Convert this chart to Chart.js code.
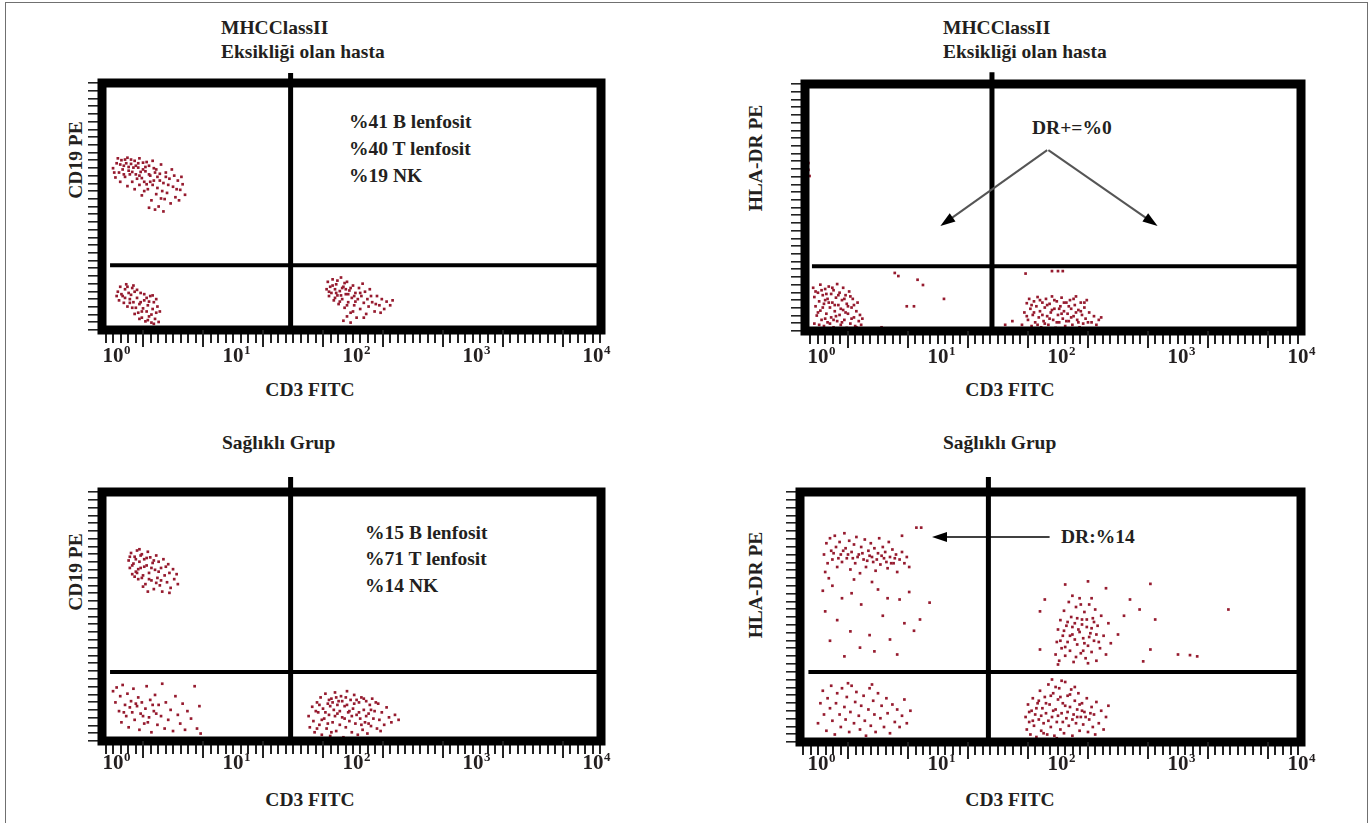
<!DOCTYPE html>
<html>
<head>
<meta charset="utf-8">
<script src="https://cdn.jsdelivr.net/npm/chart.js@4.4.1/dist/chart.umd.min.js"></script>
<style>
  body { margin: 0; background: #fff; width: 1371px; height: 823px; position: relative; overflow: hidden;
         font-family: "Liberation Serif", "DejaVu Serif", serif; font-weight: bold; color: #231f20; }
  .outer { position: absolute; left: 5px; top: 2px; width: 1361px; height: 900px; border: 1.5px solid #707070; }
  canvas { position: absolute; }
  .t { position: absolute; font-size: 19.5px; line-height: 1; white-space: nowrap; }
  .c { transform: translateX(-50%); }
  .r { transform: translate(-50%, -50%) rotate(-90deg); }
</style>
</head>
<body>
<div class="outer"></div>

<div class="t" style="left:221px;top:18px">MHCClassII</div>
<div class="t" style="left:221px;top:42px">Eksikliği olan hasta</div>
<div class="t" style="left:943px;top:18px">MHCClassII</div>
<div class="t" style="left:943px;top:42px">Eksikliği olan hasta</div>
<div class="t" style="left:222px;top:433px">Sağlıklı Grup</div>
<div class="t" style="left:943px;top:433px">Sağlıklı Grup</div>

<div class="t c" style="left:310px;top:380px">CD3 FITC</div>
<div class="t c" style="left:1010px;top:380px">CD3 FITC</div>
<div class="t c" style="left:310px;top:790px">CD3 FITC</div>
<div class="t c" style="left:1010px;top:790px">CD3 FITC</div>

<div class="t r" style="left:76px;top:160px">CD19 PE</div>
<div class="t r" style="left:756px;top:158px">HLA-DR PE</div>
<div class="t r" style="left:76px;top:572px">CD19 PE</div>
<div class="t r" style="left:756px;top:585px">HLA-DR PE</div>

<div class="t" style="left:349px;top:112px">%41 B lenfosit</div>
<div class="t" style="left:349px;top:139px">%40 T lenfosit</div>
<div class="t" style="left:349px;top:166px">%19 NK</div>
<div class="t" style="left:365px;top:523px">%15 B lenfosit</div>
<div class="t" style="left:365px;top:549px">%71 T lenfosit</div>
<div class="t" style="left:365px;top:576px">%14 NK</div>
<div class="t" style="left:1032px;top:118px">DR+=%0</div>
<div class="t" style="left:1061px;top:527px">DR:%14</div>

<canvas id="p1" width="570" height="320" style="left:60px;top:55px"></canvas>
<canvas id="p2" width="590" height="320" style="left:740px;top:55px"></canvas>
<canvas id="p3" width="570" height="320" style="left:60px;top:465px"></canvas>
<canvas id="p4" width="590" height="320" style="left:740px;top:465px"></canvas>

<script>
// all values in log10 decades (x = CD3 FITC, y = CD19 PE / HLA-DR PE)
const decades = [0, 1, 2, 3, 4];

// patient, CD3 vs CD19
const p1B = [[0.00,2.62],[0.03,2.70],[0.05,2.55],[0.07,2.75],[0.09,2.66],[0.10,2.48],[0.12,2.79],[0.13,2.58],[0.15,2.69],[0.16,2.40],[0.18,2.74],[0.19,2.52],[0.21,2.63],[0.22,2.78],[0.24,2.46],[0.25,2.71],[0.27,2.57],[0.28,2.36],[0.30,2.66],[0.31,2.50],[0.33,2.74],[0.34,2.42],[0.36,2.60],[0.37,2.30],[0.39,2.53],[0.40,2.68],[0.42,2.38],[0.44,2.55],[0.45,2.22],[0.47,2.45],[0.49,2.60],[0.50,2.32],[0.52,2.15],[0.54,2.42],[0.56,2.27],[0.58,2.36],[0.60,2.19],
  [0.02,2.47],[0.04,2.78],[0.06,2.40],[0.08,2.60],[0.11,2.70],[0.12,2.33],[0.14,2.52],[0.15,2.76],[0.17,2.63],[0.18,2.28],[0.20,2.45],[0.21,2.70],[0.23,2.56],[0.24,2.18],[0.26,2.40],[0.27,2.64],[0.29,2.28],[0.30,2.52],[0.32,2.10],[0.33,2.35],[0.35,2.55],[0.36,2.20],[0.38,2.00],[0.39,2.42],[0.41,2.25],[0.43,2.12],[0.44,2.48],[0.46,2.35],[0.48,2.05],[0.51,2.50],[0.53,2.28],[0.55,2.10],[0.57,2.48],
  [0.01,2.55],[0.06,2.68],[0.09,2.52],[0.10,2.76],[0.13,2.64],[0.16,2.56],[0.19,2.66],[0.22,2.50],[0.25,2.60],[0.28,2.72],[0.31,2.40],[0.34,2.62],[0.37,2.48],[0.40,2.13],[0.26,2.25],[0.35,1.95],[0.30,1.98],[0.22,2.35],[0.42,1.92]];
const p1N = [[0.04,0.62],[0.06,0.70],[0.08,0.55],[0.10,0.66],[0.11,0.74],[0.13,0.60],[0.14,0.50],[0.16,0.68],[0.05,0.48],[0.09,0.44],[0.12,0.38],[0.15,0.57],[0.17,0.45],[0.18,0.62],[0.19,0.36],[0.20,0.52],[0.21,0.28],[0.22,0.42],[0.23,0.60],[0.24,0.20],[0.25,0.35],[0.26,0.48],[0.27,0.14],[0.28,0.30],[0.29,0.40],[0.30,0.22],[0.31,0.55],[0.32,0.12],[0.33,0.34],[0.34,0.45],[0.35,0.18],[0.36,0.28],[0.37,0.38],[0.38,0.13],[0.36,0.50],[0.30,0.46],[0.26,0.58],[0.22,0.18],[0.18,0.26],[0.14,0.44],[0.07,0.58],[0.03,0.55],[0.12,0.70],[0.16,0.36],[0.20,0.65],[0.24,0.30],[0.28,0.52],[0.32,0.25],[0.34,0.10],[0.29,0.16],[0.33,0.56],[0.10,0.52],[0.17,0.72],[0.23,0.45],[0.39,0.30]];
const p1T = [[1.78,0.66],[1.79,0.78],[1.80,0.55],[1.81,0.70],[1.82,0.60],[1.83,0.82],[1.84,0.48],[1.85,0.66],[1.86,0.74],[1.87,0.56],[1.88,0.42],[1.89,0.63],[1.90,0.85],[1.91,0.50],[1.92,0.70],[1.93,0.36],[1.94,0.58],[1.95,0.78],[1.96,0.45],[1.97,0.64],[1.98,0.28],[1.99,0.52],[2.00,0.72],[2.01,0.40],[2.02,0.60],[2.03,0.20],[2.04,0.50],[2.05,0.68],[2.06,0.34],[2.07,0.55],[2.08,0.75],[2.09,0.44],[2.10,0.62],[2.11,0.26],[2.12,0.50],[2.13,0.38],[2.14,0.66],[2.16,0.45],[2.18,0.30],[2.20,0.55],[2.22,0.40],[2.24,0.50],[2.26,0.34],[2.28,0.46],[2.31,0.40],[2.33,0.48],
  [1.80,0.62],[1.83,0.72],[1.85,0.52],[1.87,0.80],[1.89,0.46],[1.91,0.68],[1.93,0.76],[1.95,0.40],[1.96,0.58],[1.98,0.68],[2.00,0.30],[2.02,0.46],[1.92,0.15],[1.95,0.22],[1.98,0.12],[2.01,0.55],[1.86,0.60],[1.90,0.56],[1.94,0.66],[2.06,0.60],[2.09,0.20],[2.15,0.55],[2.19,0.42],[2.23,0.28]];

// patient, CD3 vs HLA-DR
const p2N = [[-0.04,0.70],[-0.03,0.55],[-0.02,0.40],[-0.01,0.25],[-0.03,0.12],[0.00,0.62],[0.01,0.48],[0.02,0.75],[0.02,0.33],[0.03,0.18],[0.04,0.58],[0.05,0.44],[0.05,0.08],[0.06,0.68],[0.07,0.28],[0.08,0.52],[0.08,0.14],[0.09,0.72],[0.10,0.38],[0.11,0.60],[0.11,0.22],[0.12,0.46],[0.13,0.06],[0.13,0.66],[0.14,0.32],[0.15,0.54],[0.16,0.16],[0.16,0.76],[0.17,0.42],[0.18,0.62],[0.18,0.26],[0.19,0.10],[0.20,0.50],[0.21,0.70],[0.21,0.34],[0.22,0.18],[0.23,0.58],[0.24,0.44],[0.24,0.05],[0.25,0.28],[0.26,0.64],[0.27,0.12],[0.28,0.38],[0.29,0.52],[0.30,0.22],[0.31,0.08],[0.32,0.32],[0.33,0.46],[0.34,0.16],[0.35,0.26],[0.36,0.10],[0.37,0.20],
  [-0.02,0.64],[0.00,0.30],[0.03,0.66],[0.04,0.38],[0.06,0.20],[0.07,0.60],[0.09,0.46],[0.10,0.12],[0.12,0.70],[0.14,0.42],[0.15,0.24],[0.17,0.58],[0.19,0.36],[0.20,0.14],[0.22,0.52],[0.23,0.30],[0.25,0.40],[0.27,0.56],[0.28,0.20],[0.30,0.42],[0.32,0.06],[0.01,0.10],[0.06,0.50],[0.13,0.18]];
const p2T = [[1.70,0.10],[1.72,0.30],[1.74,0.45],[1.75,0.18],[1.76,0.52],[1.77,0.36],[1.78,0.08],[1.79,0.26],[1.80,0.48],[1.81,0.14],[1.82,0.40],[1.83,0.55],[1.84,0.22],[1.85,0.32],[1.86,0.06],[1.87,0.46],[1.88,0.16],[1.89,0.38],[1.90,0.52],[1.91,0.24],[1.92,0.10],[1.93,0.44],[1.94,0.30],[1.95,0.56],[1.96,0.18],[1.97,0.36],[1.98,0.05],[1.99,0.48],[2.00,0.26],[2.01,0.14],[2.02,0.40],[2.03,0.54],[2.04,0.20],[2.05,0.32],[2.06,0.08],[2.07,0.46],[2.08,0.28],[2.09,0.16],[2.10,0.50],[2.11,0.36],[2.12,0.10],[2.13,0.24],[2.14,0.42],[2.15,0.56],[2.16,0.18],[2.17,0.34],[2.18,0.06],[2.19,0.46],[2.20,0.26],[2.21,0.12],[2.22,0.38],[2.23,0.20],[2.24,0.50],[2.26,0.30],[2.28,0.14],[2.30,0.24],[2.32,0.10],[2.34,0.18],
  [1.74,0.24],[1.78,0.42],[1.80,0.30],[1.83,0.10],[1.85,0.50],[1.87,0.26],[1.89,0.12],[1.91,0.42],[1.93,0.20],[1.95,0.34],[1.97,0.50],[1.99,0.14],[2.01,0.36],[2.03,0.28],[2.05,0.46],[2.07,0.16],[2.09,0.40],[2.11,0.22],[2.13,0.52],[2.15,0.30],[2.17,0.14],[2.19,0.32],[2.22,0.46],[2.25,0.14],[1.56,0.10],[1.62,0.16],[1.73,0.04],[2.36,0.22],[1.84,0.02],[2.06,0.02]];
const p2Few = [[0.64,0.94],[0.67,0.89],[0.83,0.83],[0.875,0.745],[0.74,0.40],[0.80,0.40],[1.05,0.52],[0.53,0.06],[1.95,0.97],[2.00,0.97],[2.04,0.97],[1.73,0.93],[-0.08,2.72],[-0.08,2.61],[-0.07,2.51]];

// healthy, CD3 vs CD19
const p3B = [[0.13,2.90],[0.14,2.78],[0.15,3.02],[0.16,2.68],[0.17,2.85],[0.18,2.96],[0.19,2.72],[0.20,3.06],[0.21,2.60],[0.22,2.88],[0.23,2.78],[0.24,3.00],[0.25,2.66],[0.26,2.92],[0.27,2.52],[0.28,2.82],[0.29,3.04],[0.30,2.70],[0.31,2.95],[0.32,2.58],[0.33,2.86],[0.34,2.44],[0.35,2.75],[0.36,2.98],[0.37,2.62],[0.38,2.88],[0.39,2.50],[0.40,2.78],[0.41,2.40],[0.42,2.92],[0.43,2.66],[0.45,2.55],[0.46,2.84],[0.47,2.70],[0.48,2.46],[0.50,2.76],[0.51,2.60],[0.53,2.68],[0.54,2.52],
  [0.14,2.96],[0.16,2.82],[0.18,2.64],[0.19,2.92],[0.21,2.76],[0.23,2.98],[0.24,2.62],[0.26,2.80],[0.28,2.94],[0.30,2.60],[0.32,2.78],[0.34,2.90],[0.36,2.54],[0.38,2.72],[0.40,2.58],[0.44,2.80],[0.47,2.38],[0.25,2.48],[0.29,2.40],[0.20,2.70],[0.22,3.08]];
const p3N = [[0.00,0.80],[0.02,0.62],[0.03,0.86],[0.05,0.48],[0.06,0.72],[0.07,0.30],[0.08,0.90],[0.10,0.58],[0.11,0.40],[0.12,0.76],[0.13,0.22],[0.15,0.64],[0.16,0.46],[0.17,0.84],[0.18,0.34],[0.20,0.56],[0.21,0.70],[0.22,0.18],[0.23,0.44],[0.24,0.62],[0.26,0.28],[0.27,0.52],[0.28,0.88],[0.30,0.38],[0.31,0.66],[0.32,0.14],[0.34,0.48],[0.35,0.74],[0.37,0.26],[0.38,0.58],[0.40,0.40],[0.41,0.92],[0.43,0.20],[0.44,0.62],[0.46,0.34],[0.48,0.50],[0.50,0.16],[0.52,0.72],[0.54,0.42],[0.56,0.28],[0.58,0.60],[0.60,0.18],[0.62,0.48],[0.65,0.36],[0.68,0.88],[0.70,0.20],[0.72,0.56],[0.73,0.12],
  [0.09,0.46],[0.14,0.54],[0.19,0.60],[0.25,0.40],[0.29,0.30],[0.33,0.58],[0.36,0.44]];
const p3T = [[1.63,0.40],[1.64,0.22],[1.66,0.55],[1.67,0.32],[1.68,0.14],[1.70,0.62],[1.71,0.46],[1.72,0.26],[1.73,0.70],[1.74,0.10],[1.75,0.52],[1.76,0.36],[1.77,0.76],[1.78,0.20],[1.79,0.60],[1.80,0.42],[1.81,0.08],[1.82,0.68],[1.83,0.30],[1.84,0.50],[1.85,0.78],[1.86,0.16],[1.87,0.44],[1.88,0.64],[1.89,0.26],[1.90,0.72],[1.91,0.38],[1.92,0.06],[1.93,0.56],[1.94,0.22],[1.95,0.80],[1.96,0.46],[1.97,0.32],[1.98,0.66],[1.99,0.14],[2.00,0.52],[2.01,0.74],[2.02,0.28],[2.03,0.42],[2.04,0.10],[2.05,0.62],[2.06,0.36],[2.07,0.70],[2.08,0.18],[2.09,0.50],[2.10,0.30],[2.11,0.64],[2.12,0.12],[2.13,0.44],[2.14,0.58],[2.15,0.24],[2.16,0.68],[2.17,0.36],[2.18,0.48],[2.20,0.20],[2.21,0.60],[2.22,0.34],[2.24,0.46],[2.26,0.26],[2.28,0.54],[2.30,0.38],[2.32,0.30],[2.35,0.42],[2.38,0.34],
  [1.69,0.48],[1.72,0.58],[1.74,0.34],[1.77,0.46],[1.79,0.28],[1.81,0.56],[1.83,0.62],[1.85,0.40],[1.87,0.58],[1.89,0.48],[1.91,0.64],[1.93,0.36],[1.95,0.58],[1.97,0.48],[1.99,0.40],[2.01,0.60],[2.03,0.66],[2.05,0.46],[2.07,0.26],[2.09,0.68],[2.11,0.40],[2.13,0.28],[2.15,0.50],[2.19,0.62],[1.86,0.70],[1.94,0.70],[1.80,0.66],[1.70,0.20],[2.23,0.16],[1.82,0.14],[1.78,0.04],[1.84,0.02]];

// healthy, CD3 vs HLA-DR
const p4B = [[0.05,3.00],[0.07,3.18],[0.08,2.86],[0.10,3.26],[0.11,3.06],[0.12,2.92],[0.14,3.30],[0.15,3.12],[0.16,2.80],[0.18,3.20],[0.19,3.00],[0.20,2.88],[0.22,3.34],[0.23,3.10],[0.24,2.94],[0.26,3.22],[0.27,2.76],[0.28,3.04],[0.30,3.16],[0.31,2.86],[0.32,3.28],[0.34,3.00],[0.35,2.70],[0.36,3.12],[0.38,2.92],[0.39,3.24],[0.40,2.80],[0.42,3.06],[0.43,2.98],[0.44,3.18],[0.46,2.88],[0.47,3.10],[0.48,2.74],[0.50,3.02],[0.51,3.26],[0.52,2.84],[0.54,3.12],[0.55,2.94],[0.56,3.04],[0.58,2.78],[0.59,3.20],[0.60,2.96],[0.62,3.08],[0.63,2.86],[0.65,3.00],[0.66,2.72],[0.68,2.92],[0.70,3.04],[0.72,2.86],[0.74,2.96],[0.76,2.80],
  [0.13,3.02],[0.17,2.94],[0.21,3.06],[0.25,3.00],[0.29,2.94],[0.33,2.96],[0.37,3.02],[0.41,2.90],[0.45,2.96],[0.49,2.92],[0.53,2.98],[0.57,2.88],[0.61,2.86],[0.64,2.94],[0.06,2.72],[0.09,2.62],[0.30,2.60],[0.45,2.56],[0.82,3.43],[0.86,3.43],[0.70,3.30],
  [0.04,2.42],[0.12,2.50],[0.20,2.30],[0.28,2.38],[0.36,2.20],[0.50,2.44],[0.58,2.30],[0.68,2.28],[0.76,2.40],[0.93,2.23],[0.06,2.09],[0.85,1.96],[0.72,1.90],[0.16,1.95],[0.27,1.77],[0.43,1.71],[0.60,1.64],[0.35,1.51],[0.47,1.45],[0.22,1.37],[0.66,1.40],[0.10,1.62],[0.80,1.78],[0.54,2.02]];
const p4DR = [[1.98,1.40],[1.99,1.60],[2.00,1.80],[2.01,1.30],[2.02,1.95],[2.03,1.50],[2.04,1.70],[2.05,2.10],[2.06,1.38],[2.07,1.86],[2.08,1.60],[2.09,2.24],[2.10,1.46],[2.11,2.00],[2.12,1.72],[2.13,1.28],[2.14,1.90],[2.15,2.16],[2.16,1.56],[2.17,1.80],[2.18,2.30],[2.19,1.42],[2.20,1.96],[2.21,1.66],[2.22,2.08],[2.23,1.34],[2.24,1.84],[2.25,1.54],[2.26,2.20],[2.27,1.74],[2.28,1.44],[2.29,1.98],[2.30,1.62],[2.31,2.12],[2.32,1.30],[2.33,1.86],[2.35,1.50],[2.36,2.02],[2.38,1.70],[2.40,1.40],[2.42,1.90],[2.44,1.58],
  [2.02,1.62],[2.05,1.78],[2.08,1.92],[2.10,1.70],[2.12,1.84],[2.14,1.64],[2.16,1.98],[2.18,1.76],[2.20,1.88],[2.22,1.58],[2.24,1.96],[2.26,1.68],[2.28,1.82],[2.30,1.92],[2.32,1.72],[2.15,1.36],[2.06,1.52],[2.21,1.46],[2.34,1.60],[2.00,1.24],[2.25,1.26],[2.12,2.34],[2.19,2.20],[2.28,2.30],
  [1.85,2.09],[1.89,2.28],[2.06,2.52],[2.25,2.57],[2.60,2.28],[2.77,2.53],[2.81,1.96],[2.68,2.12],[3.00,1.40],[3.10,1.39],[3.16,1.37],[2.77,1.48],[2.71,1.29],[2.50,1.72],[1.85,1.48],[2.55,2.02],[3.42,2.12],[2.40,2.46]];
const p4N = [[0.00,0.30],[0.02,0.62],[0.04,0.82],[0.05,0.44],[0.07,0.18],[0.08,0.70],[0.10,0.54],[0.11,0.90],[0.12,0.34],[0.14,0.12],[0.15,0.62],[0.16,0.78],[0.18,0.44],[0.19,0.24],[0.20,0.86],[0.22,0.56],[0.23,0.36],[0.24,0.72],[0.26,0.16],[0.27,0.48],[0.28,0.90],[0.30,0.30],[0.31,0.64],[0.32,0.80],[0.34,0.42],[0.35,0.20],[0.36,0.58],[0.38,0.74],[0.39,0.34],[0.40,0.10],[0.42,0.52],[0.43,0.86],[0.44,0.26],[0.46,0.66],[0.47,0.44],[0.48,0.16],[0.50,0.78],[0.52,0.38],[0.53,0.58],[0.55,0.24],[0.57,0.70],[0.58,0.46],[0.60,0.14],[0.62,0.60],[0.64,0.32],[0.66,0.52],[0.68,0.24],[0.70,0.42],[0.72,0.68],[0.74,0.30],[0.77,0.50],[0.25,0.94],[0.45,0.92]];
const p4T = [[1.73,0.40],[1.74,0.20],[1.75,0.60],[1.76,0.32],[1.77,0.12],[1.78,0.50],[1.79,0.70],[1.80,0.26],[1.81,0.44],[1.82,0.08],[1.83,0.62],[1.84,0.36],[1.85,0.82],[1.86,0.18],[1.87,0.54],[1.88,0.30],[1.89,0.72],[1.90,0.46],[1.91,0.12],[1.92,0.92],[1.93,0.60],[1.94,0.24],[1.95,0.40],[1.96,0.78],[1.97,0.10],[1.98,0.52],[1.99,0.32],[2.00,0.68],[2.01,0.86],[2.02,0.20],[2.03,0.46],[2.04,0.62],[2.05,0.14],[2.06,0.96],[2.07,0.38],[2.08,0.74],[2.09,0.26],[2.10,0.56],[2.11,0.84],[2.12,0.10],[2.13,0.44],[2.14,0.66],[2.15,0.30],[2.16,0.52],[2.17,0.78],[2.18,0.18],[2.19,0.40],[2.20,0.62],[2.21,0.28],[2.22,0.48],[2.24,0.70],[2.25,0.16],[2.26,0.36],[2.28,0.56],[2.29,0.24],[2.30,0.44],[2.32,0.64],[2.34,0.30],[2.36,0.50],[2.38,0.20],[2.40,0.40],[2.42,0.58],
  [1.76,0.48],[1.79,0.34],[1.82,0.54],[1.84,0.66],[1.86,0.42],[1.88,0.14],[1.90,0.62],[1.92,0.34],[1.94,0.74],[1.96,0.50],[1.98,0.88],[2.00,0.42],[2.02,0.72],[2.04,0.32],[2.06,0.58],[2.08,0.48],[2.10,0.76],[2.12,0.36],[2.14,0.88],[2.16,0.40],[2.18,0.60],[2.20,0.50],[2.23,0.40],[2.27,0.46],[1.95,1.00],[2.03,0.98],[1.99,0.06],[2.07,0.04],[1.87,0.02],[2.31,0.12]];

// quadrant gates (decades)
const gateX = [1.48, 1.45, 1.48, 1.42];
const gateY = [1.05, 1.05, 1.11, 1.12];

const dotColor = '#961b2f';

const panelDeco = {
  id: 'panelDeco',
  afterDatasetsDraw(chart, args, o) {
    const { ctx, chartArea: a, scales: { x } } = chart;
    ctx.save();
    ctx.strokeStyle = '#000';
    ctx.lineWidth = 9;
    ctx.strokeRect(a.left, a.top, a.right - a.left, a.bottom - a.top);
    // longer ticks
    ctx.lineWidth = 2;
    ctx.strokeStyle = '#222';
    for (let v = 0.25; v < x.max; v += 0.5) {
      const px = Math.round(x.getPixelForValue(v));
      ctx.beginPath(); ctx.moveTo(px, a.bottom); ctx.lineTo(px, a.bottom + 17); ctx.stroke();
    }
    // decade labels 10^n
    ctx.fillStyle = '#231f20';
    decades.forEach(e => {
      const px = x.getPixelForValue(e);
      ctx.font = 'bold 21px "Liberation Serif"';
      ctx.textAlign = 'center';
      ctx.fillText('10', px, a.bottom + o.labelOffset);
      const w = ctx.measureText('10').width;
      ctx.font = 'bold 13px "Liberation Serif"';
      ctx.textAlign = 'left';
      ctx.fillText(String(e), px + w / 2 + 0.5, a.bottom + o.labelOffset - 8);
    });
    // arrows
    (o.arrows || []).forEach(ar => {
      const x0 = x.getPixelForValue(ar.from[0]), y0 = chart.scales.y.getPixelForValue(ar.from[1]);
      const x1 = x.getPixelForValue(ar.to[0]), y1 = chart.scales.y.getPixelForValue(ar.to[1]);
      const ang = Math.atan2(y1 - y0, x1 - x0);
      ctx.strokeStyle = ar.color; ctx.lineWidth = ar.width;
      ctx.beginPath(); ctx.moveTo(x0, y0);
      ctx.lineTo(x1 - 12 * Math.cos(ang), y1 - 12 * Math.sin(ang)); ctx.stroke();
      ctx.fillStyle = '#000';
      ctx.beginPath();
      ctx.moveTo(x1, y1);
      ctx.lineTo(x1 - 15 * Math.cos(ang) + 5 * Math.sin(ang), y1 - 15 * Math.sin(ang) - 5 * Math.cos(ang));
      ctx.lineTo(x1 - 15 * Math.cos(ang) - 5 * Math.sin(ang), y1 - 15 * Math.sin(ang) + 5 * Math.cos(ang));
      ctx.closePath(); ctx.fill();
    });
    ctx.restore();
  }
};

function tickList(min, max, step) {
  const out = [];
  for (let v = Math.ceil(min / step) * step; v <= max + 1e-9; v += step) out.push({ value: v });
  return out;
}

function makePanel(id, clusters, p) {
  const datasets = [
    { type: 'line', data: [{ x: p.gx, y: p.top }, { x: p.gx, y: 0 }], borderColor: '#000', borderWidth: 5,
      pointRadius: 0, clip: false, borderCapStyle: 'butt' },
    { type: 'line', data: [{ x: p.hx, y: p.gy }, { x: p.xmax, y: p.gy }], borderColor: '#000', borderWidth: 4,
      pointRadius: 0, clip: false }
  ];
  clusters.forEach(c => datasets.push({
    type: 'scatter',
    data: c.map(([x, y]) => ({ x, y })),
    pointStyle: 'rect', pointRadius: 1.9, pointHoverRadius: 1.9,
    backgroundColor: dotColor, borderWidth: 0
  }));
  new Chart(document.getElementById(id), {
    type: 'scatter',
    data: { datasets },
    options: {
      responsive: false, animation: false, devicePixelRatio: 1,
      layout: { padding: p.pad },
      plugins: { legend: { display: false }, tooltip: { enabled: false },
                 panelDeco: { labelOffset: p.labelOffset, arrows: p.arrows } },
      scales: {
        x: { type: 'linear', min: p.xmin, max: p.xmax,
             afterBuildTicks: s => { s.ticks = tickList(p.xmin, p.xmax, 0.0625); },
             afterFit: s => { s.height = 40; },
             ticks: { display: false, autoSkip: false },
             grid: { drawOnChartArea: false, drawTicks: true, tickLength: 13, color: '#222', lineWidth: 2 },
             border: { display: false } },
        y: { type: 'linear', min: 0, max: 4,
             afterBuildTicks: s => { s.ticks = tickList(0, 4, 0.125); },
             afterFit: s => { s.width = 12; },
             ticks: { display: false, autoSkip: false },
             grid: { drawOnChartArea: false, drawTicks: true, tickLength: 14, color: '#222', lineWidth: 1.6 },
             border: { display: false } }
      }
    },
    plugins: [panelDeco]
  });
}

makePanel('p1', [p1B, p1N, p1T], {
  pad: { left: 30, top: 28, right: 29, bottom: 5 }, xmin: -0.092, xmax: 4.067,
  gx: gateX[0], gy: gateY[0], top: 4.16, hx: -0.025, labelOffset: 32
});
makePanel('p2', [p2N, p2T, p2Few], {
  pad: { left: 53, top: 29, right: 29, bottom: 4 }, xmin: -0.108, xmax: 4.025,
  gx: gateX[1], gy: gateY[1], top: 4.19, hx: -0.05, labelOffset: 32,
  arrows: [{ from: [1.91, 2.93], to: [1.02, 1.70], color: '#555', width: 2 },
           { from: [1.92, 2.93], to: [2.83, 1.70], color: '#555', width: 2 }]
});
makePanel('p3', [p3B, p3N, p3T], {
  pad: { left: 30, top: 27, right: 29, bottom: 4 }, xmin: -0.092, xmax: 4.067,
  gx: gateX[2], gy: gateY[2], top: 4.24, hx: -0.025, labelOffset: 28
});
makePanel('p4', [p4B, p4DR, p4N, p4T], {
  pad: { left: 48, top: 27, right: 29, bottom: 3 }, xmin: -0.15, xmax: 4.025,
  gx: gateX[3], gy: gateY[3], top: 4.24, hx: -0.08, labelOffset: 28,
  arrows: [{ from: [1.93, 3.28], to: [0.95, 3.28], color: '#000', width: 1.5 }]
});
</script>
</body>
</html>
